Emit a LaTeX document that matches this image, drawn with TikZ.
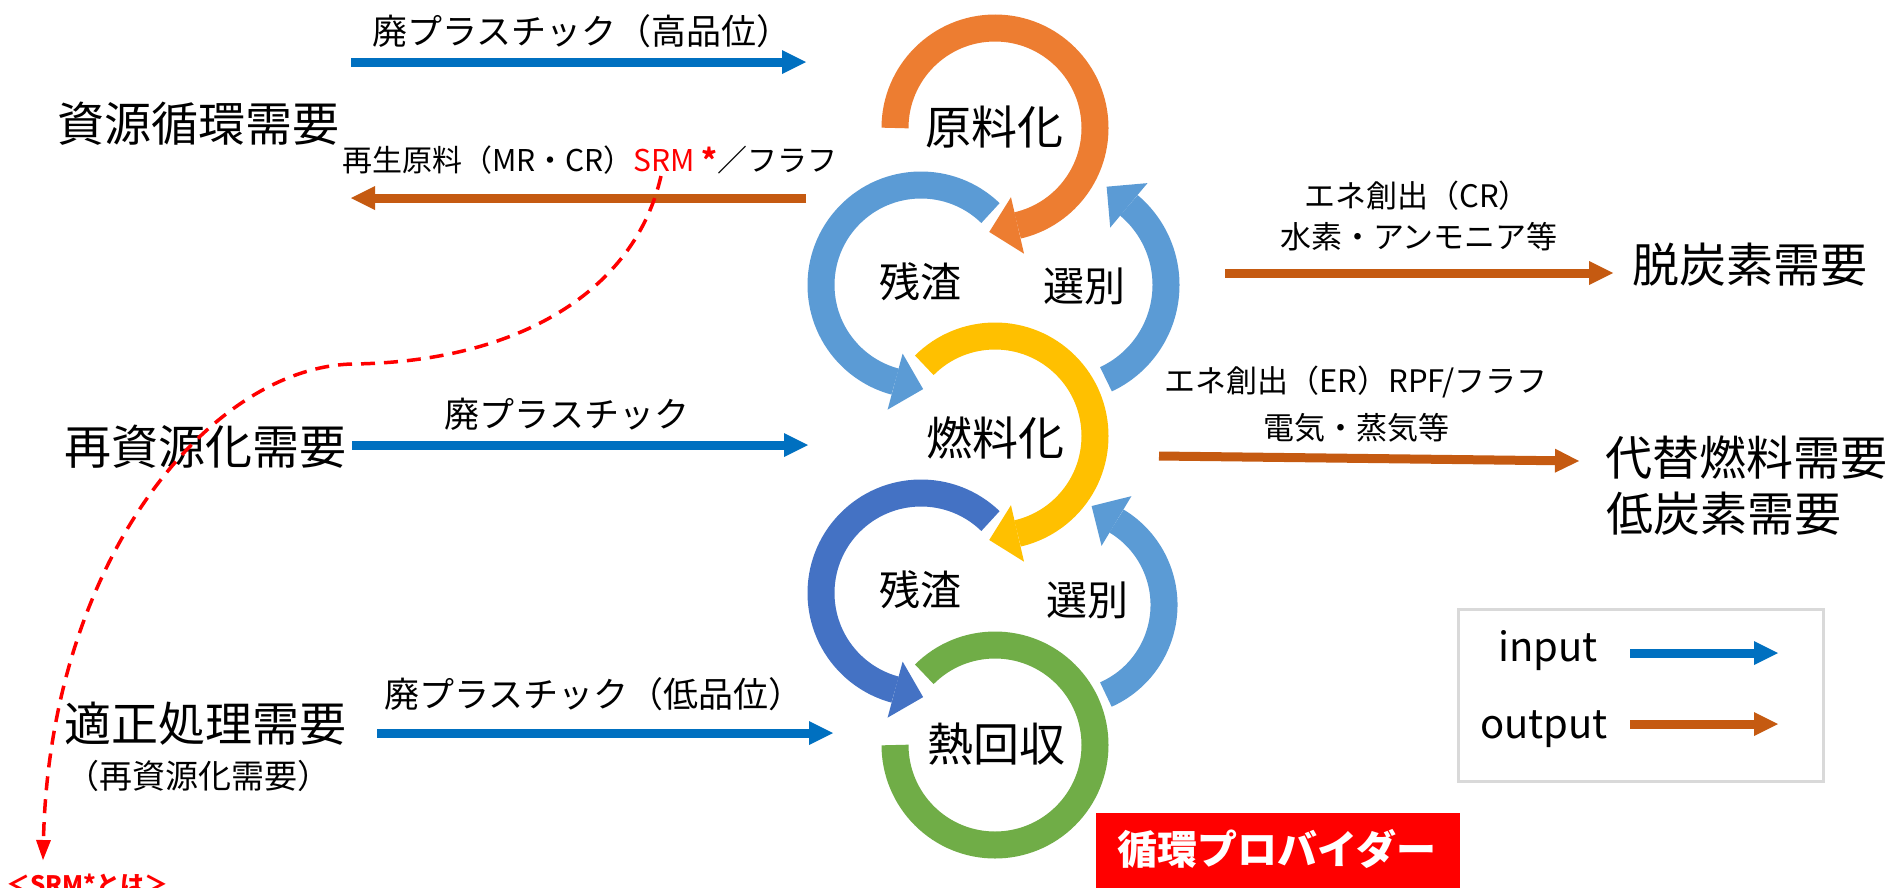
\documentclass[tikz,border=0pt]{standalone}
\usepackage{fontspec}
\setmainfont{Noto Sans CJK JP}
\usetikzlibrary{arrows.meta,calc}
\definecolor{inblue}{HTML}{0070C0}
\definecolor{outbrown}{HTML}{C55A11}
\definecolor{ringorange}{HTML}{ED7D31}
\definecolor{ringlblue}{HTML}{5B9BD5}
\definecolor{ringyellow}{HTML}{FFC000}
\definecolor{ringdblue}{HTML}{4472C4}
\definecolor{ringgreen}{HTML}{70AD47}
\definecolor{legendgray}{HTML}{D9D9D9}
\newcommand{\fsz}[1]{\fontsize{#1}{#1}\selectfont}
% color, cx, cy, radius, start angle, end angle, tangent offset (+90 ccw / -90 cw)
\newcommand{\ringarrow}[7]{%
  \draw[#1, line width=27pt] ($(#2,#3)+({#5}:{#4})$) arc[start angle=#5, end angle=#6, radius=#4];
  \fill[#1] ($(#2,#3)+({#6}:{#4-29})$) -- ($(#2,#3)+({#6}:{#4+29})$) -- ($(#2,#3)+({#6}:{#4})+({#6+(#7)}:29)$) -- cycle;
}
\begin{document}
\begin{tikzpicture}[x=1pt,y=1pt,
  biglbl/.style={inner sep=0pt, font=\fsz{47}},
  ringlbl/.style={inner sep=0pt, font=\fsz{46}},
  sublbl/.style={inner sep=0pt, font=\fsz{41}},
  flowlbl/.style={inner sep=0pt, font=\fsz{35}},
  smalllbl/.style={inner sep=0pt, font=\fsz{31}},
  flowin/.style={draw=inblue, line width=9pt, -{Triangle[length=24pt,width=24pt,line width=0pt]}},
  flowout/.style={draw=outbrown, line width=9pt, -{Triangle[length=24pt,width=24pt,line width=0pt]}},
  srmline/.style={draw=red, line width=3.5pt, dash pattern=on 14pt off 9pt, -{Triangle[length=20pt,width=15pt,line width=0pt]}}
]
\useasboundingbox (0,0) rectangle (1893,-887);
\fill[white] (0,0) rectangle (1893,-887);

% ---- cycle rings ----
\ringarrow{ringorange}{995}{-128}{100}{180}{-77}{-90}
\ringarrow{ringlblue}{921}{-285}{100}{46}{255}{90}
\ringarrow{ringlblue}{1062}{-285}{104}{-65}{50}{90}
\ringarrow{ringyellow}{995}{-436}{100}{135}{-77}{-90}
\ringarrow{ringdblue}{921}{-593}{100}{46}{255}{90}
\ringarrow{ringlblue}{1066}{-605}{98}{-66}{59}{90}
\draw[ringgreen, line width=27pt] ($(995,-745)+(135:100)$) arc[start angle=135, end angle=-180, radius=100];

% ---- ring labels ----
\node[ringlbl] (genryo) at (994,-127) {原料化};
\node[ringlbl] (nenryo) at (995,-438) {燃料化};
\node[ringlbl] (netsu) at (996,-744) {熱回収};
\node[sublbl] (zansa1) at (920,-282) {残渣};
\node[sublbl] (senbetsu1) at (1084,-286) {選別};
\node[sublbl] (zansa2) at (920,-590) {残渣};
\node[sublbl] (senbetsu2) at (1087,-600) {選別};

% ---- left demand labels ----
\node[biglbl] (shigen) at (198,-124) {資源循環需要};
\node[biglbl] (saishigen) at (205,-447) {再資源化需要};
\node[biglbl] (tekisei) at (205,-724) {適正処理需要};
\node[inner sep=0pt, font=\fsz{33}] (tekisei2) at (198,-776) {（再資源化需要）};

% ---- right demand labels ----
\node[biglbl] (datsu) at (1750,-265) {脱炭素需要};
\node[biglbl, anchor=west] (daitai) at (1605,-458) {代替燃料需要};
\node[biglbl, anchor=west] (teitanso) at (1606,-514) {低炭素需要};

% ---- flow labels ----
\node[flowlbl] (hq) at (582,-31) {廃プラスチック（高品位）};
\node[flowlbl] (mq) at (567,-414) {廃プラスチック};
\node[flowlbl] (lq) at (594,-694) {廃プラスチック（低品位）};
\node[smalllbl, font=\fsz{30}] (saisei) at (590,-160) {再生原料（MR・CR）\textcolor{red}{SRM \textbf{*}}／フラフ};
\node[smalllbl] (cr1) at (1417,-196) {エネ創出（CR）};
\node[smalllbl] (cr2) at (1419,-237) {水素・アンモニア等};
\node[smalllbl] (er1) at (1356,-382) {エネ創出（ER）RPF/フラフ};
\node[smalllbl] (er2) at (1356,-428) {電気・蒸気等};

% ---- flow arrows ----
\coordinate (a1s) at (351,-62);  \coordinate (a1e) at (806,-62);
\coordinate (a2s) at (352,-445); \coordinate (a2e) at (808,-445);
\coordinate (a3s) at (377,-733); \coordinate (a3e) at (833,-733);
\coordinate (b1s) at (806,-198); \coordinate (b1e) at (351,-198);
\coordinate (b2s) at (1225,-273); \coordinate (b2e) at (1613,-273);
\coordinate (b3s) at (1159,-456); \coordinate (b3e) at (1579,-461);
\draw[flowin] (a1s) -- (a1e);
\draw[flowin] (a2s) -- (a2e);
\draw[flowin] (a3s) -- (a3e);
\draw[flowout] (b1s) -- (b1e);
\draw[flowout] (b2s) -- (b2e);
\draw[flowout] (b3s) -- (b3e);

% ---- SRM dashed pointer ----
\coordinate (srm) at (661,-176);
\coordinate (srmbend) at (352,-364);
\coordinate (srmend) at (43,-860);
\draw[srmline] (srm) .. controls (635,-290) and (520,-362) .. (srmbend) .. controls (210,-368) and (50,-560) .. (srmend);
\node[anchor=north west, inner sep=0pt, text=red, font=\fsz{24}\bfseries] (srmnote) at (6,-874) {＜SRM*とは＞};

% ---- legend ----
\draw[legendgray, line width=3pt] (1458,-609) rectangle (1823,-781);
\node[anchor=base, inner sep=0pt, font=\fsz{40}] (linput) at (1548,-661) {input};
\node[anchor=base, inner sep=0pt, font=\fsz{40}] (loutput) at (1544,-738) {output};
\coordinate (lis) at (1630,-653); \coordinate (lie) at (1778,-653);
\coordinate (los) at (1630,-724); \coordinate (loe) at (1778,-724);
\draw[flowin] (lis) -- (lie);
\draw[flowout] (los) -- (loe);

% ---- provider badge ----
\fill[red] (1096,-813) rectangle (1460,-900);
\node[inner sep=0pt, text=white, font=\fsz{40}\bfseries] (provider) at (1277,-849) {循環プロバイダー};
\end{tikzpicture}
\end{document}
